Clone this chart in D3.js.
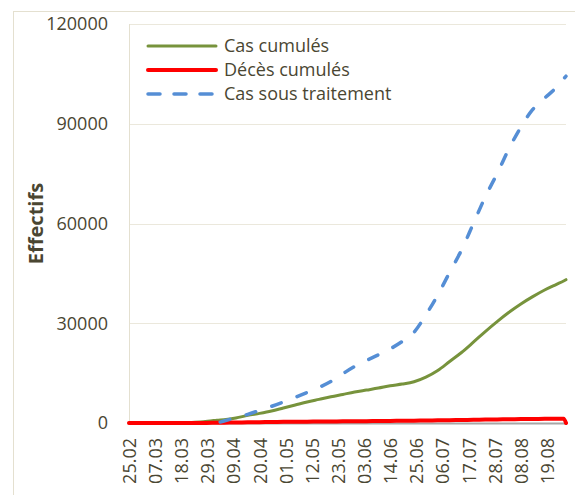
<!DOCTYPE html>
<html>
<head>
<meta charset="utf-8">
<script src="https://cdn.jsdelivr.net/npm/d3@7"></script>
<style>
  body { margin: 0; background: #fff; }
  svg text { font-family: "Open Sans", "Liberation Sans", sans-serif; fill: #4a4632; }
</style>
</head>
<body>
<div id="chart"></div>
<script>
// sampled days (dd.mm, 2020)
const sampleDates = [
  "25.02", "06.03", "16.03", "21.03", "26.03", "31.03", "02.04", "05.04", "10.04", "15.04",
  "20.04", "25.04", "30.04", "05.05", "10.05", "15.05", "20.05", "25.05", "30.05", "04.06",
  "09.06", "14.06", "19.06", "24.06", "29.06", "04.07", "09.07", "14.07", "19.07", "24.07",
  "29.07", "03.08", "08.08", "13.08", "18.08", "23.08", "26.08", "27.08"
];
const casCumules = [
  0, 0, 30, 100, 300, 700, 850, 1000, 1500, 2300,
  2900, 3600, 4500, 5400, 6300, 7100, 7900, 8600, 9300, 9900,
  10500, 11200, 11700, 12400, 13800, 15800, 18500, 21200, 24300, 27500,
  30500, 33300, 35800, 38000, 40000, 41700, 42700, 43100
];
const decesCumules = [
  0, 0, 0, 5, 20, 40, 60, 100, 150, 200,
  250, 300, 340, 380, 410, 440, 470, 500, 530, 560,
  590, 620, 660, 700, 740, 790, 840, 900, 960, 1020,
  1080, 1130, 1180, 1220, 1260, 1290, 1310, 0
];
const casSousTraitement = [
  null, null, null, null, null, null, 0, 600, 1600, 2600,
  3800, 5000, 6300, 7700, 9200, 10700, 12500, 14800, 17000, 18800,
  20500, 22300, 24500, 27300, 32500, 38500, 45300, 52000, 60000, 68000,
  75000, 82500, 89000, 94300, 97700, 101000, 103500, 104300
];
const tickLabels = [
  "25.02", "07.03", "18.03", "29.03", "09.04", "20.04", "01.05", "12.05", "23.05",
  "03.06", "14.06", "25.06", "06.07", "17.07", "28.07", "08.08", "19.08"
];
const yTicks = [0, 30000, 60000, 90000, 120000];
const seriesNames = ["Cas cumulés", "Décès cumulés", "Cas sous traitement"];

const width = 575;
const height = 495;
const margin = {top: 24, right: 9, bottom: 72, left: 129};

const parseDay = (s) => d3.timeParse("%d.%m.%Y")(s + ".2020");
const dates = sampleDates.map(parseDay);

const series = [
  {name: seriesNames[0], values: casCumules, color: "#77933c", width: 3, dash: null},
  {name: seriesNames[1], values: decesCumules, color: "#ff0000", width: 4, dash: null},
  {name: seriesNames[2], values: casSousTraitement, color: "#558ed5", width: 3.5, dash: [10, 17]}
];

const svg = d3.select("#chart").append("svg")
  .attr("width", width)
  .attr("height", height);

// outer chart border
svg.append("rect")
  .attr("x", 13.5).attr("y", 11.5)
  .attr("width", 600).attr("height", 520)
  .attr("fill", "none")
  .attr("stroke", "#e4e0d0");

const x = d3.scaleTime()
  .domain([dates[0], dates[dates.length - 1]])
  .range([margin.left, width - margin.right]);

const y = d3.scaleLinear()
  .domain([0, 120000])
  .range([height - margin.bottom, margin.top]);

// gridlines
svg.append("g")
  .attr("class", "grid")
  .attr("transform", `translate(${margin.left},0)`)
  .call(d3.axisLeft(y).tickValues(yTicks).tickSize(-(width - margin.left - margin.right)).tickFormat(""))
  .call((g) => g.select(".domain").remove())
  .call((g) => g.selectAll("line").attr("stroke", "#ebe8dc").attr("shape-rendering", "crispEdges"));

// left axis line
svg.append("line")
  .attr("x1", margin.left + 0.5).attr("x2", margin.left + 0.5)
  .attr("y1", y(120000)).attr("y2", y(0))
  .attr("stroke", "#e4e0d0");

// y labels
svg.append("g")
  .attr("transform", `translate(${margin.left},0)`)
  .call(d3.axisLeft(y).tickValues(yTicks).tickSize(0).tickPadding(21).tickFormat(d3.format("d")))
  .call((g) => g.select(".domain").remove())
  .call((g) => g.selectAll("text").attr("font-size", 18).style("font-family", null));

// x axis
const xAxis = svg.append("g")
  .attr("transform", `translate(0,${y(0)})`)
  .call(d3.axisBottom(x).tickValues(tickLabels.map(parseDay)).tickSize(0).tickFormat(d3.timeFormat("%d.%m")));
xAxis.select(".domain").attr("stroke", "#a6a6a6").attr("stroke-width", 2);
xAxis.selectAll("text")
  .attr("font-size", 18)
  .attr("transform", "rotate(-90)")
  .attr("text-anchor", "end")
  .attr("x", -15)
  .attr("y", 0)
  .attr("dy", "0.36em");

// y title
svg.append("text")
  .attr("transform", `translate(43,${(y(0) + y(120000)) / 2}) rotate(-90)`)
  .attr("text-anchor", "middle")
  .attr("font-size", 20)
  .attr("font-weight", "bold")
  .text("Effectifs");

// lines
const line = (vals) => d3.line()
  .defined((d, i) => vals[i] != null)
  .x((d) => x(d))
  .y((d, i) => y(vals[i]))
  .curve(d3.curveMonotoneX);

series.forEach((s) => {
  const path = svg.append("path")
    .datum(dates)
    .attr("fill", "none")
    .attr("stroke", s.color)
    .attr("stroke-width", s.width)
    .attr("stroke-linecap", "round")
    .attr("stroke-linejoin", "round")
    .attr("d", line(s.values));
  if (s.dash) {
    // shift the pattern so the line ends on a dash, as in the original
    const period = s.dash[0] + s.dash[1];
    const len = path.node().getTotalLength();
    const offset = ((s.dash[0] - 1 - (len % period)) % period + period) % period;
    path.attr("stroke-dasharray", s.dash.join(","))
      .attr("stroke-dashoffset", -offset);
  }
});

// legend
const legend = svg.append("g").attr("class", "legend");
series.forEach((s, i) => {
  const ly = 46 + i * 24;
  legend.append("line")
    .attr("x1", 148).attr("x2", 216)
    .attr("y1", ly).attr("y2", ly)
    .attr("stroke", s.color)
    .attr("stroke-width", s.width)
    .attr("stroke-linecap", "round")
    .attr("stroke-dasharray", s.dash ? "12,14" : null);
  legend.append("text")
    .attr("x", 224).attr("y", ly)
    .attr("dy", "0.36em")
    .attr("font-size", 18)
    .text(s.name);
});
</script>
</body>
</html>
